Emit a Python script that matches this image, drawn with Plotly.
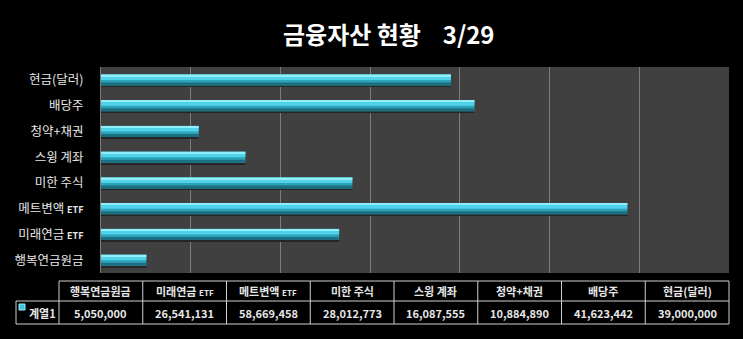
import plotly.graph_objects as go

# Categories (bottom to top) and their values
categories = ["행복연금원금", "미래연금 ETF", "메트변액 ETF", "미한 주식",
              "스윙 계좌", "청약+채권", "배당주", "현금(달러)"]
values = [5050000, 26541131, 58669458, 28012773,
          16087555, 10884890, 41623442, 39000000]
series_name = "계열1"

FONT = "Noto Sans CJK KR"


def rich_label(name, size):
    # Render a trailing "ETF" smaller and bold
    if name.endswith(" ETF"):
        return name[:-4] + f" <span style='font-size:{size}px'><b>ETF</b></span>"
    return name


tick_text = [rich_label(c, 9) for c in categories]

fig = go.Figure()

# Layered bars give a bevelled, glossy cylinder look
layers = [
    dict(width=0.05, offset=-0.27, color="#262626"),   # drop shadow
    dict(width=0.44, offset=-0.22, color="#2ca3ba"),   # body
    dict(width=0.12, offset=-0.22, color="#1c6f80"),   # lower shade
    dict(width=0.20, offset=0.00, color="#4fd2ea"),    # upper gloss
    dict(width=0.06, offset=0.15, color="#92eefb"),    # top highlight
]
for k, lay in enumerate(layers):
    fig.add_trace(go.Bar(
        x=values, y=categories, orientation="h",
        width=lay["width"], offset=lay["offset"],
        marker=dict(color=lay["color"], line=dict(width=0)),
        showlegend=False, hoverinfo="x+y" if k == 1 else "skip",
    ))

fig.update_layout(
    width=743, height=339,
    barmode="overlay",
    paper_bgcolor="black",
    plot_bgcolor="#404040",
    margin=dict(l=101, r=14, t=67, b=66),
    font=dict(family=FONT, color="#e6e6e6"),
    title=dict(
        text="<b>금융자산 현황&nbsp;&nbsp;&nbsp; 3/29</b>",
        x=283 / 743, xanchor="left", y=1 - 36 / 339, yanchor="middle",
        font=dict(family=FONT, size=24, color="white"),
    ),
    xaxis=dict(
        range=[0, 70000000], dtick=10000000, tick0=0,
        showgrid=True, gridcolor="#7c7c7c", gridwidth=1,
        showticklabels=False, zeroline=False, showline=False,
        fixedrange=True,
    ),
    yaxis=dict(
        type="category", categoryorder="array", categoryarray=categories,
        tickmode="array", tickvals=categories, ticktext=tick_text,
        tickfont=dict(family=FONT, size=12.5, color="#e6e6e6"),
        ticklabelstandoff=14,
        showline=True, linecolor="#7c7c7c", linewidth=1,
        ticks="", ticklen=0, showgrid=False, zeroline=False,
        range=[-0.5, len(categories) - 0.5],
    ),
)

# ---- data table under the plot (paper coordinates) ----
plot_top_px, plot_h_px = 67, 206
plot_left_px, plot_w_px = 101, 628


def px_x(px):
    return (px - plot_left_px) / plot_w_px


def px_y(py):
    return (plot_top_px + plot_h_px - py) / plot_h_px


tbl_left, tbl_right = 59, 729
label_left = 16
row_top, row_mid, row_bot = 281, 301, 324
line_col = "#cfcfcf"
ncol = len(categories)
col_w = (tbl_right - tbl_left) / ncol

shapes = []


def hline(x0, x1, y):
    shapes.append(dict(type="line", xref="paper", yref="paper",
                       x0=px_x(x0), x1=px_x(x1), y0=px_y(y), y1=px_y(y),
                       line=dict(color=line_col, width=1)))


def vline(x, y0, y1):
    shapes.append(dict(type="line", xref="paper", yref="paper",
                       x0=px_x(x), x1=px_x(x), y0=px_y(y0), y1=px_y(y1),
                       line=dict(color=line_col, width=1)))


hline(tbl_left, tbl_right, row_top)
hline(label_left, tbl_right, row_mid)
hline(label_left, tbl_right, row_bot)
vline(label_left, row_mid, row_bot)
for i in range(ncol + 1):
    vline(tbl_left + i * col_w, row_top, row_bot)

# legend key swatch in the row label cell
shapes.append(dict(type="rect", xref="paper", yref="paper",
                   x0=px_x(19), x1=px_x(25), y0=px_y(304), y1=px_y(310),
                   fillcolor="#3cc3dc", line=dict(color="#9af0fc", width=1)))

annotations = []
for i, (cat, val) in enumerate(zip(categories, values)):
    cx = px_x(tbl_left + (i + 0.5) * col_w)
    annotations.append(dict(
        x=cx, y=px_y((row_top + row_mid) / 2), xref="paper", yref="paper",
        text="<b>" + rich_label(cat, 8) + "</b>", showarrow=False,
        xanchor="center", yanchor="middle",
        font=dict(family=FONT, size=11, color="#e6e6e6")))
    annotations.append(dict(
        x=cx, y=px_y((row_mid + row_bot) / 2), xref="paper", yref="paper",
        text=f"<b>{val:,}</b>", showarrow=False,
        xanchor="center", yanchor="middle",
        font=dict(family=FONT, size=11, color="#e6e6e6")))

annotations.append(dict(
    x=px_x(27), y=px_y((row_mid + row_bot) / 2), xref="paper", yref="paper",
    text=f"<b>{series_name}</b>", showarrow=False,
    xanchor="left", yanchor="middle",
    font=dict(family=FONT, size=11, color="#e6e6e6")))

fig.update_layout(shapes=shapes, annotations=annotations)

fig.write_html("out.html")
